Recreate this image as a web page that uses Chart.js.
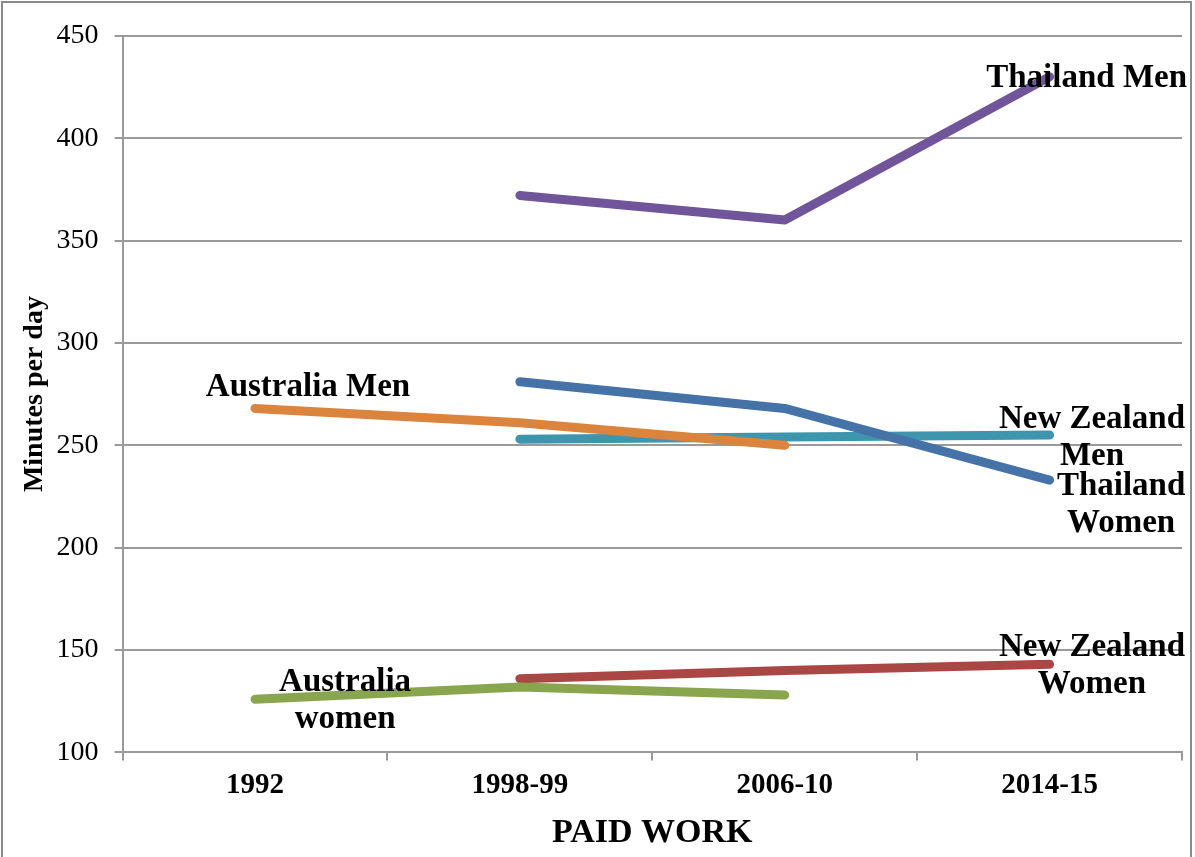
<!DOCTYPE html>
<html>
<head>
<meta charset="utf-8">
<script src="https://cdn.jsdelivr.net/npm/chart.js@4"></script>
<style>
  html, body { margin: 0; padding: 0; background: #fff; }
  #wrap { position: absolute; left: 1px; top: 1px; width: 1191px; height: 870px; border: 2px solid #8a8a8a; box-sizing: border-box; }
  canvas { display: block; }
</style>
</head>
<body>
<div id="wrap"><canvas id="c" width="1187" height="866"></canvas></div>
<script>
const categories = ['1992', '1998-99', '2006-10', '2014-15'];
const thailandMen = [null, 372, 360, 430];
const thailandWomen = [null, 281, 268, 233];
const australiaMen = [268, 261, 250, null];
const nzMen = [null, 253, 254, 255];
const australiaWomen = [126, 132, 128, null];
const nzWomen = [null, 136, 140, 143];
const yTicks = [100, 150, 200, 250, 300, 350, 400, 450];

const seriesLabels = [['Thailand Men'], ['Australia Men'], ['New Zealand', 'Men'], ['Thailand', 'Women'], ['New Zealand', 'Women'], ['Australia', 'women']];
const seriesLabelX = [3.14, 0.20, 3.16, 3.27, 3.16, 0.34];
const seriesLabelY = [429.4, 278, 262.5, 229.7, 151.4, 134.3];

const SERIF = '"Liberation Serif", "DejaVu Serif", serif';

const labelPlugin = {
  id: 'seriesLabels',
  afterDatasetsDraw(chart) {
    const ctx = chart.ctx;
    const xs = chart.scales.x, ys = chart.scales.y;
    ctx.save();
    ctx.fillStyle = '#000';
    ctx.font = 'bold 33px ' + SERIF;
    ctx.textAlign = 'center';
    ctx.textBaseline = 'middle';
    seriesLabels.forEach((lines, i) => {
      const px = xs.getPixelForValue(seriesLabelX[i]);
      const py = ys.getPixelForValue(seriesLabelY[i]);
      lines.forEach((t, j) => ctx.fillText(t, px, py + j * 37));
    });
    ctx.restore();
  }
};

function ds(label, data, color) {
  return { label, data, borderColor: color, backgroundColor: color, borderWidth: 9,
    borderCapStyle: 'round', borderJoinStyle: 'round', pointRadius: 0, pointHoverRadius: 0,
    tension: 0, spanGaps: false, fill: false };
}

new Chart(document.getElementById('c'), {
  type: 'line',
  data: {
    labels: categories,
    datasets: [
      ds('Thailand Women', thailandWomen, '#4572A7'),
      ds('Australia Men', australiaMen, '#DB843D'),
      ds('New Zealand Men', nzMen, '#3D96AE'),
      ds('Thailand Men', thailandMen, '#71559A'),
      ds('Australia women', australiaWomen, '#89A54E'),
      ds('New Zealand Women', nzWomen, '#AA4643')
    ]
  },
  options: {
    responsive: false,
    animation: false,
    layout: { padding: { top: 30, right: 8, left: 9, bottom: 11 } },
    plugins: { legend: { display: false }, tooltip: { enabled: false } },
    scales: {
      x: {
        offset: true,
        grid: { display: true, offset: true, drawOnChartArea: false, drawTicks: true, tickLength: 8, color: '#9a9a9a', lineWidth: 2 },
        border: { display: true, color: '#9a9a9a', width: 2 },
        ticks: { color: '#000', font: { family: SERIF, size: 29, weight: 'bold' }, padding: 8 },
        title: { display: true, text: 'PAID WORK', color: '#000', font: { family: SERIF, size: 34, weight: 'bold' }, padding: { top: 2 } }
      },
      y: {
        min: 100, max: 450,
        afterBuildTicks(scale) { scale.ticks = yTicks.map(v => ({ value: v })); },
        grid: { color: '#9a9a9a', lineWidth: 2, tickLength: 8 },
        border: { display: true, color: '#9a9a9a', width: 2 },
        ticks: { color: '#000', font: { family: SERIF, size: 28 }, padding: 16 },
        title: { display: true, text: 'Minutes per day', color: '#000', font: { family: SERIF, size: 28, weight: 'bold' }, padding: { top: 6, bottom: -11 } }
      }
    }
  },
  plugins: [labelPlugin]
});
</script>
</body>
</html>
